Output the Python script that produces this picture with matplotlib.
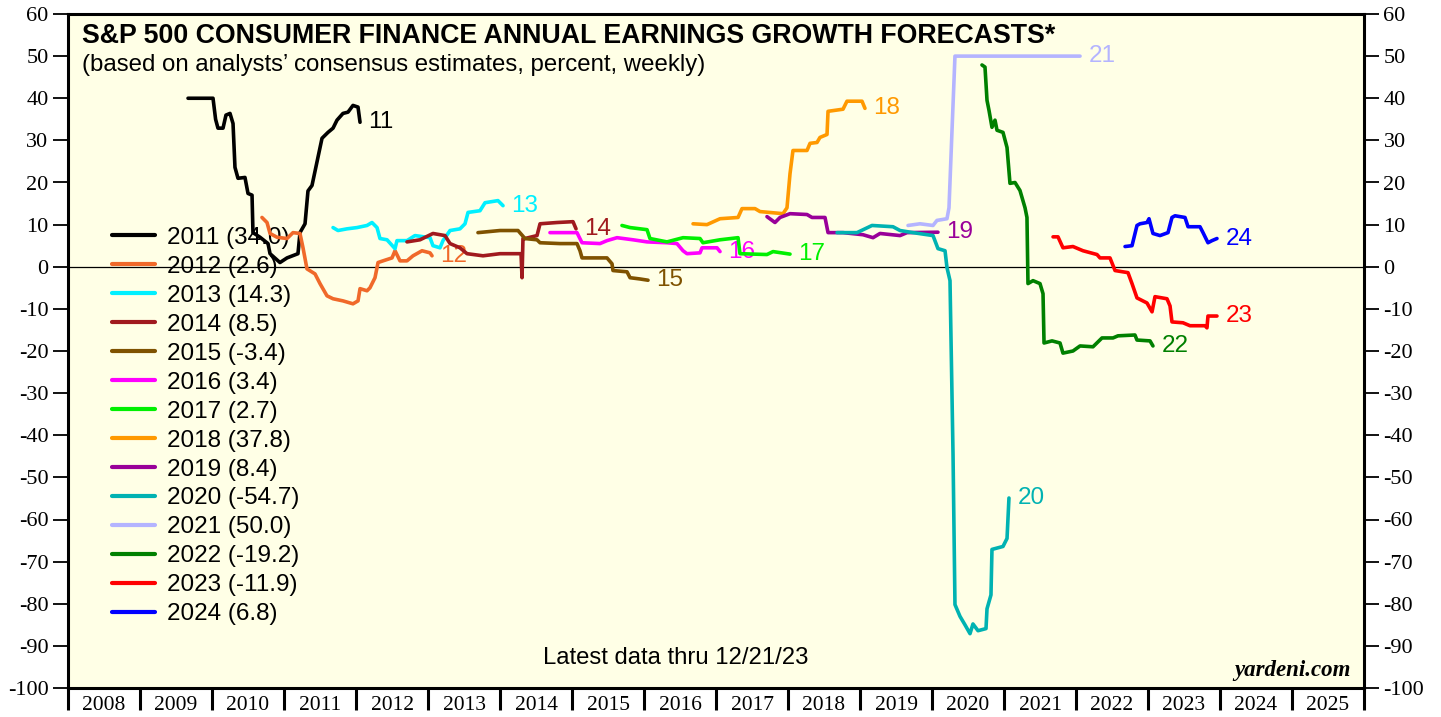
import matplotlib
matplotlib.use("Agg")
import matplotlib.pyplot as plt

# ---------------- data (fractional years, percent) ----------------
years = [2011, 2012, 2013, 2014, 2015, 2016, 2017, 2018, 2019, 2020, 2021, 2022, 2023, 2024]
latest = [34.0, 2.6, 14.3, 8.5, -3.4, 3.4, 2.7, 37.8, 8.4, -54.7, 50.0, -19.2, -11.9, 6.8]
colors = ["#000000", "#F0692A", "#00F0FF", "#A01A1E", "#7F5200", "#FF00FF", "#00F000",
          "#FF9900", "#990099", "#00B2B2", "#B4B4FF", "#008000", "#FF0000", "#0000FF"]

t2011 = [2009.667, 2010.014, 2010.05, 2010.083, 2010.153, 2010.194, 2010.25, 2010.292, 2010.319, 2010.361,
         2010.458, 2010.5, 2010.556, 2010.569, 2010.667, 2010.778, 2010.806, 2010.944, 2011.042, 2011.194,
         2011.222, 2011.292, 2011.333, 2011.389, 2011.472, 2011.528, 2011.611, 2011.681, 2011.736, 2011.819,
         2011.889, 2011.958, 2012.028, 2012.056]
v2011 = [40, 40, 35, 32.9, 32.9, 36.0, 36.4, 34.0, 23.6, 21, 21.2, 17.4, 17, 8.1, 7, 5.5, 3.1, 1, 2.1, 3.1,
         8.1, 10.2, 18, 19.3, 26, 30.5, 31.9, 32.9, 34.8, 36.4, 36.7, 38.3, 37.9, 34.3]

t2012 = [2010.694, 2010.764, 2010.806, 2010.903, 2011.042, 2011.125, 2011.222, 2011.264, 2011.319, 2011.431,
         2011.5, 2011.597, 2011.681, 2011.819, 2011.958, 2012.028, 2012.056, 2012.153, 2012.194, 2012.264,
         2012.306, 2012.375, 2012.5, 2012.542, 2012.611, 2012.708, 2012.792, 2012.917, 2013.028, 2013.056]
v2012 = [11.7, 10.5, 7.9, 7, 6.7, 8.1, 7.9, 4.5, -0.5, -1.7, -4, -6.9, -7.6, -8.1, -8.8, -8.1, -5.2, -5.7,
         -5, -2.6, 1, 1.4, 2.1, 3.8, 1.4, 1.4, 2.6, 3.8, 3.3, 2.6]

t2013 = [2011.681, 2011.75, 2011.875, 2012.014, 2012.153, 2012.222, 2012.292, 2012.333, 2012.431, 2012.542,
         2012.569, 2012.708, 2012.819, 2013.028, 2013.069, 2013.167, 2013.208, 2013.278, 2013.306, 2013.444,
         2013.514, 2013.556, 2013.722, 2013.792, 2013.972, 2014.042]
v2013 = [9.3, 8.6, 9, 9.3, 9.8, 10.5, 9.3, 6.7, 6.4, 4.3, 6.2, 6.2, 7.4, 6.9, 5, 4.5, 6.2, 7.9, 8.6, 9,
         10.2, 12.9, 13.3, 15.2, 15.7, 14.5]

t2014 = [2012.708, 2012.889, 2013.069, 2013.236, 2013.306, 2013.444, 2013.542, 2013.764, 2014.0, 2014.292,
         2014.306, 2014.319, 2014.347, 2014.514, 2014.556, 2014.792, 2015.014, 2015.056]
v2014 = [5.9, 6.4, 7.9, 7.4, 5.5, 4.5, 3.1, 2.6, 3.1, 3.1, -2.6, 6.7, 6.7, 7.4, 10.2, 10.5, 10.7, 9]

t2015 = [2013.694, 2014.0, 2014.25, 2014.347, 2014.514, 2014.556, 2014.833, 2015.069, 2015.111, 2015.139,
         2015.486, 2015.556, 2015.569, 2015.764, 2015.806, 2015.944, 2016.056]
v2015 = [8.1, 8.6, 8.6, 6.7, 6.4, 5.7, 5.5, 5.5, 3.8, 2.1, 2.1, 0.7, -0.9, -1.2, -2.6, -2.9, -3.2]

t2016 = [2014.694, 2015.069, 2015.139, 2015.389, 2015.486, 2015.625, 2015.847, 2016.042, 2016.319, 2016.458,
         2016.542, 2016.597, 2016.778, 2016.806, 2017.014, 2017.056]
v2016 = [8.1, 8.1, 5.7, 5.5, 6.2, 6.9, 6.4, 5.9, 5.7, 5.5, 3.8, 3.1, 3.3, 4.5, 4.5, 3.6]

t2017 = [2015.694, 2015.806, 2016.042, 2016.083, 2016.319, 2016.542, 2016.778, 2016.819, 2017.056, 2017.306,
         2017.333, 2017.708, 2017.792, 2018.028]
v2017 = [9.8, 9.3, 8.8, 6.7, 5.9, 6.9, 6.7, 5.7, 6.4, 6.9, 3.1, 2.9, 3.6, 3.0]

t2018 = [2016.681, 2016.875, 2017.056, 2017.306, 2017.361, 2017.542, 2017.611, 2017.931, 2017.986, 2018.028,
         2018.069, 2018.264, 2018.306, 2018.403, 2018.444, 2018.542, 2018.556, 2018.764, 2018.819, 2019.028,
         2019.069]
v2018 = [10.2, 10, 11.4, 11.7, 13.8, 13.8, 13.1, 12.6, 14, 22.1, 27.6, 27.6, 29.3, 29.5, 30.7, 31.4, 36.9,
         37.4, 39.3, 39.3, 37.6]

t2019 = [2017.708, 2017.819, 2017.889, 2018.028, 2018.264, 2018.333, 2018.514, 2018.556, 2018.764, 2019.042,
         2019.181, 2019.278, 2019.556, 2019.653, 2020.083]
v2019 = [11.9, 10.5, 11.7, 12.6, 12.4, 11.7, 11.7, 8.1, 8.1, 7.6, 6.9, 7.9, 7.4, 8.1, 8.2]

t2020 = [2018.681, 2018.958, 2019.167, 2019.458, 2019.556, 2019.736, 2020.014, 2020.083, 2020.181, 2020.208,
         2020.25, 2020.292, 2020.319, 2020.389, 2020.458, 2020.528, 2020.569, 2020.639, 2020.75, 2020.764,
         2020.819, 2020.833, 2020.986, 2021.042, 2021.069]
v2020 = [8.1, 8.1, 9.8, 9.5, 8.6, 8.1, 7.4, 4.3, 3.8, -0.2, -3.3, -44.5, -80.2, -83, -85, -87.1, -84.8,
         -86.4, -85.9, -81.2, -77.9, -67.1, -66.4, -64.5, -54.9]

t2021 = [2019.667, 2019.833, 2020.014, 2020.069, 2020.208, 2020.236, 2020.278, 2020.319, 2022.056]
v2021 = [9.8, 10.2, 9.8, 11, 11.4, 14, 32.4, 50, 50]

t2022 = [2020.694, 2020.736, 2020.764, 2020.792, 2020.833, 2020.875, 2020.903, 2020.986, 2021.042, 2021.083,
         2021.153, 2021.222, 2021.292, 2021.319, 2021.333, 2021.403, 2021.5, 2021.542, 2021.556, 2021.667,
         2021.778, 2021.819, 2021.958, 2022.056, 2022.236, 2022.361, 2022.514, 2022.583, 2022.819, 2022.847,
         2023.028, 2023.069]
v2022 = [47.9, 47.4, 39.5, 37.1, 33.1, 34.8, 32.4, 31.9, 28.3, 19.8, 20, 18.1, 14, 11.7, -4, -3.3, -4,
         -6.4, -18.1, -17.6, -18.1, -20.5, -20, -18.8, -19, -16.9, -16.9, -16.4, -16.2, -17.4, -17.6, -18.8]

t2023 = [2021.681, 2021.75, 2021.819, 2021.958, 2022.097, 2022.292, 2022.333, 2022.472, 2022.542, 2022.722,
         2022.778, 2022.847, 2022.986, 2023.056, 2023.097, 2023.264, 2023.306, 2023.333, 2023.486, 2023.583,
         2023.792, 2023.819, 2023.833, 2023.958]
v2023 = [7.1, 7.1, 4.5, 4.8, 3.8, 2.9, 2.1, 2.1, -0.9, -1.4, -4, -7.4, -8.6, -10.7, -7.1, -7.6, -9.3,
         -13.1, -13.3, -14, -14, -14.5, -11.7, -11.7]

t2024 = [2022.681, 2022.778, 2022.847, 2022.889, 2022.986, 2023.014, 2023.069, 2023.167, 2023.278, 2023.333,
         2023.375, 2023.514, 2023.556, 2023.722, 2023.764, 2023.833, 2023.889, 2023.958]
v2024 = [4.8, 5, 9.8, 10.2, 10.5, 11.4, 7.9, 7.4, 8.1, 11.7, 12.1, 11.7, 9.5, 9.5, 8.1, 5.7, 6.2, 6.7]

series_t = [t2011, t2012, t2013, t2014, t2015, t2016, t2017, t2018, t2019, t2020, t2021, t2022, t2023, t2024]
series_v = [v2011, v2012, v2013, v2014, v2015, v2016, v2017, v2018, v2019, v2020, v2021, v2022, v2023, v2024]

year_ticks = list(range(2008, 2027))
year_labels = [str(y) for y in range(2008, 2026)]
y_ticks = list(range(-100, 61, 10))

# ---------------- figure ----------------
SANS = ["Liberation Sans", "DejaVu Sans"]
SERIF = ["Liberation Serif", "DejaVu Serif"]

fig = plt.figure(figsize=(14.41, 7.17), dpi=100, facecolor="white")
ax = fig.add_axes([68 / 1441, 1 - 688 / 717, 1296 / 1441, 674 / 717])
ax.set_facecolor("#FFFFE6")
ax.set_xlim(2008, 2026)
ax.set_ylim(-100, 60)

ax.axhline(0, color="black", lw=0.9, zorder=1)

handles = []
for yr, last, c, tt, vv in zip(years, latest, colors, series_t, series_v):
    h, = ax.plot(tt, vv, color=c, lw=2.6, solid_joinstyle="round", solid_capstyle="round",
                 label=f"{yr} ({last:.1f})", zorder=3)
    handles.append(h)
    ax.annotate(str(yr)[2:], xy=(tt[-1], vv[-1]), xytext=(6, 0), textcoords="offset points",
                color=c, fontsize=17.5, family=SANS, va="center", ha="left", zorder=3)

leg = ax.legend(handles=handles, loc="upper left", bbox_to_anchor=(0.034, 0.684), frameon=False,
                prop={"family": SANS, "size": 17.5}, handlelength=1.75, handletextpad=0.5,
                labelspacing=0.285, borderpad=0, borderaxespad=0)
leg.set_zorder(2)
for lh in leg.legend_handles:
    lh.set_linewidth(3.0)

# axes styling
for s in ax.spines.values():
    s.set_linewidth(2.2)
    s.set_color("black")

ax.set_yticks(y_ticks)
ax.set_yticklabels([str(v) for v in y_ticks])
ax.tick_params(axis="y", which="major", direction="out", length=11, width=1.3,
               left=True, right=True, labelleft=True, labelright=True, pad=3, labelsize=16)
ax.set_xticks(year_ticks)
ax.set_xticklabels([])
ax.set_xticks([y + 0.5 for y in range(2008, 2026)], minor=True)
ax.set_xticklabels(year_labels, minor=True)
ax.tick_params(axis="x", which="major", direction="out", length=16, width=2.2)
ax.tick_params(axis="x", which="minor", length=0, pad=6, labelsize=15.5)
for lab in ax.get_yticklabels() + ax.get_xticklabels(minor=True):
    lab.set_family(SERIF)

# texts
ax.text(0.011, 0.968, "S&P 500 CONSUMER FINANCE ANNUAL EARNINGS GROWTH FORECASTS*", transform=ax.transAxes,
        family=SANS, fontweight="bold", fontsize=19.3, va="center", ha="left")
ax.text(0.011, 0.924, "(based on analysts\u2019 consensus estimates, percent, weekly)", transform=ax.transAxes,
        family=SANS, fontsize=17.3, va="center", ha="left")
ax.text(0.469, 0.044, "Latest data thru 12/21/23", transform=ax.transAxes,
        family=SANS, fontsize=17.2, va="center", ha="center")
ax.text(0.990, 0.026, "yardeni.com", transform=ax.transAxes,
        family=SERIF, fontsize=16.5, fontweight="bold", style="italic", va="center", ha="right")

fig.savefig("out.png", dpi=100, facecolor="white")
